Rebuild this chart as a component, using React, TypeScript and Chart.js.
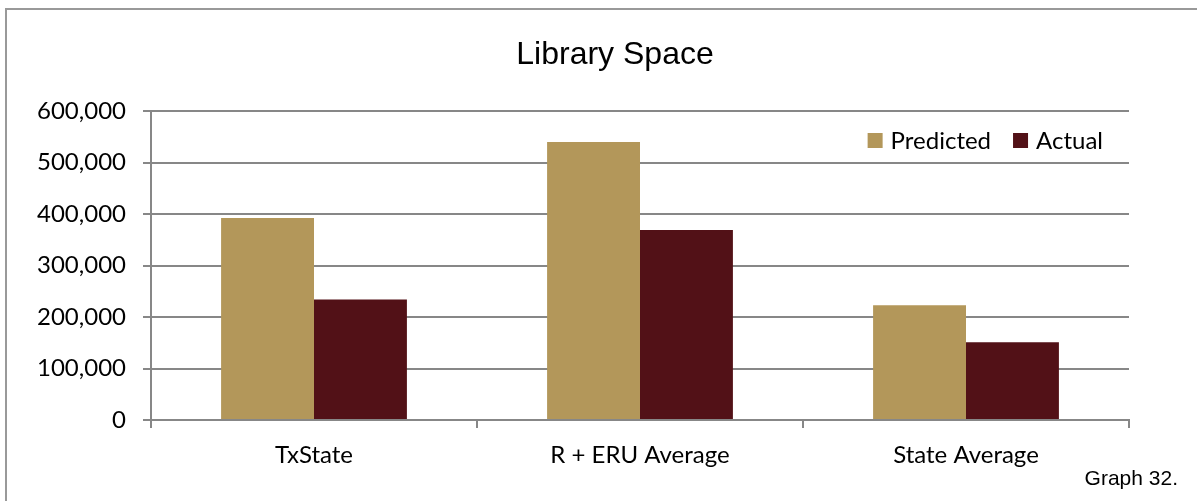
import React, { useEffect, useRef } from "react";
import { Chart, registerables } from "chart.js";

Chart.register(...registerables);

const categories = ["TxState", "R + ERU Average", "State Average"];
const seriesNames = ["Predicted", "Actual"];
const predicted = [392000, 540000, 223000];
const actual = [234000, 369000, 151000];
const yTicks = [0, 100000, 200000, 300000, 400000, 500000, 600000];
const chartTitle = "Library Space";
const footnote = "Graph 32.";

const GOLD = "#B3975A";
const MAROON = "#521117";
const GRID = "#878787";
const SANS = "Lato, 'Noto Sans', sans-serif";
const ARIAL = "'Liberation Sans', Arial, sans-serif";

const decorPlugin = {
  id: "decor",
  afterDraw(chart: any) {
    const ctx = chart.ctx as CanvasRenderingContext2D;
    const area = chart.chartArea;
    ctx.save();
    // title
    ctx.fillStyle = "#000";
    ctx.font = `32px ${ARIAL}`;
    ctx.textAlign = "center";
    ctx.textBaseline = "alphabetic";
    ctx.fillText(chartTitle, 615, 64);
    // footnote
    ctx.font = `21px ${ARIAL}`;
    ctx.textAlign = "right";
    ctx.fillText(footnote, 1178, 485);
    // legend (inside plot, top right)
    ctx.font = `24px ${SANS}`;
    ctx.textAlign = "left";
    ctx.textBaseline = "middle";
    const sw = 15;
    const gapText = 8;
    const gapItem = 22;
    const ds = chart.data.datasets;
    const widths = ds.map((d: any) => ctx.measureText(d.label).width);
    let total = 0;
    ds.forEach((_: any, i: number) => {
      total += sw + gapText + widths[i] + (i < ds.length - 1 ? gapItem : 0);
    });
    let x = area.right - 26 - total;
    const cy = area.top + 29.5;
    ds.forEach((d: any, i: number) => {
      ctx.fillStyle = d.backgroundColor;
      ctx.fillRect(x, cy - sw / 2, sw, sw);
      x += sw + gapText;
      ctx.fillStyle = "#000";
      ctx.fillText(d.label, x, cy + 1);
      x += widths[i] + gapItem;
    });
    ctx.restore();
  },
};

export default function App() {
  const ref = useRef<HTMLCanvasElement | null>(null);

  useEffect(() => {
    if (!ref.current) return;
    const chart = new Chart(ref.current, {
      type: "bar",
      data: {
        labels: categories,
        datasets: [
          { label: seriesNames[0], data: predicted, backgroundColor: GOLD },
          { label: seriesNames[1], data: actual, backgroundColor: MAROON },
        ],
      },
      options: {
        responsive: false,
        animation: false,
        layout: { padding: { left: 0, right: 68, top: 111, bottom: 0 } },
        plugins: {
          legend: { display: false },
          title: { display: false },
          tooltip: { enabled: false },
        },
        datasets: {
          bar: { categoryPercentage: 0.57, barPercentage: 1.0 },
        },
        scales: {
          x: {
            offset: true,
            grid: {
              offset: true,
              drawOnChartArea: false,
              drawTicks: true,
              tickLength: 8,
              color: GRID,
              lineWidth: 2,
            },
            border: { display: true, color: GRID, width: 2 },
            ticks: {
              color: "#000",
              font: { family: SANS, size: 24 },
              padding: 13,
              maxRotation: 0,
              autoSkip: false,
            },
            afterFit: (scale: any) => {
              scale.height = 81;
            },
          },
          y: {
            min: 0,
            max: 600000,
            afterBuildTicks: (scale: any) => {
              scale.ticks = yTicks.map((v) => ({ value: v }));
            },
            grid: {
              color: GRID,
              lineWidth: 2,
              drawTicks: true,
              tickLength: 8,
            },
            border: { display: true, color: GRID, width: 2 },
            ticks: {
              color: "#000",
              font: { family: SANS, size: 24 },
              padding: 17,
              callback: (v: any) => Number(v).toLocaleString("en-US"),
            },
            afterFit: (scale: any) => {
              scale.width = 151;
            },
          },
        },
      },
      plugins: [decorPlugin],
    });
    return () => chart.destroy();
  }, []);

  return (
    <div
      style={{
        position: "fixed",
        left: 0,
        top: 0,
        width: 1197,
        height: 501,
        overflow: "hidden",
        background: "#fff",
      }}
    >
      <div
        style={{
          position: "absolute",
          left: 5,
          top: 8,
          width: 1250,
          height: 600,
          borderLeft: "2px solid #999",
          borderTop: "2px solid #999",
        }}
      />
      <canvas
        ref={ref}
        width={1197}
        height={501}
        style={{ position: "absolute", left: 0, top: 0 }}
      />
    </div>
  );
}
